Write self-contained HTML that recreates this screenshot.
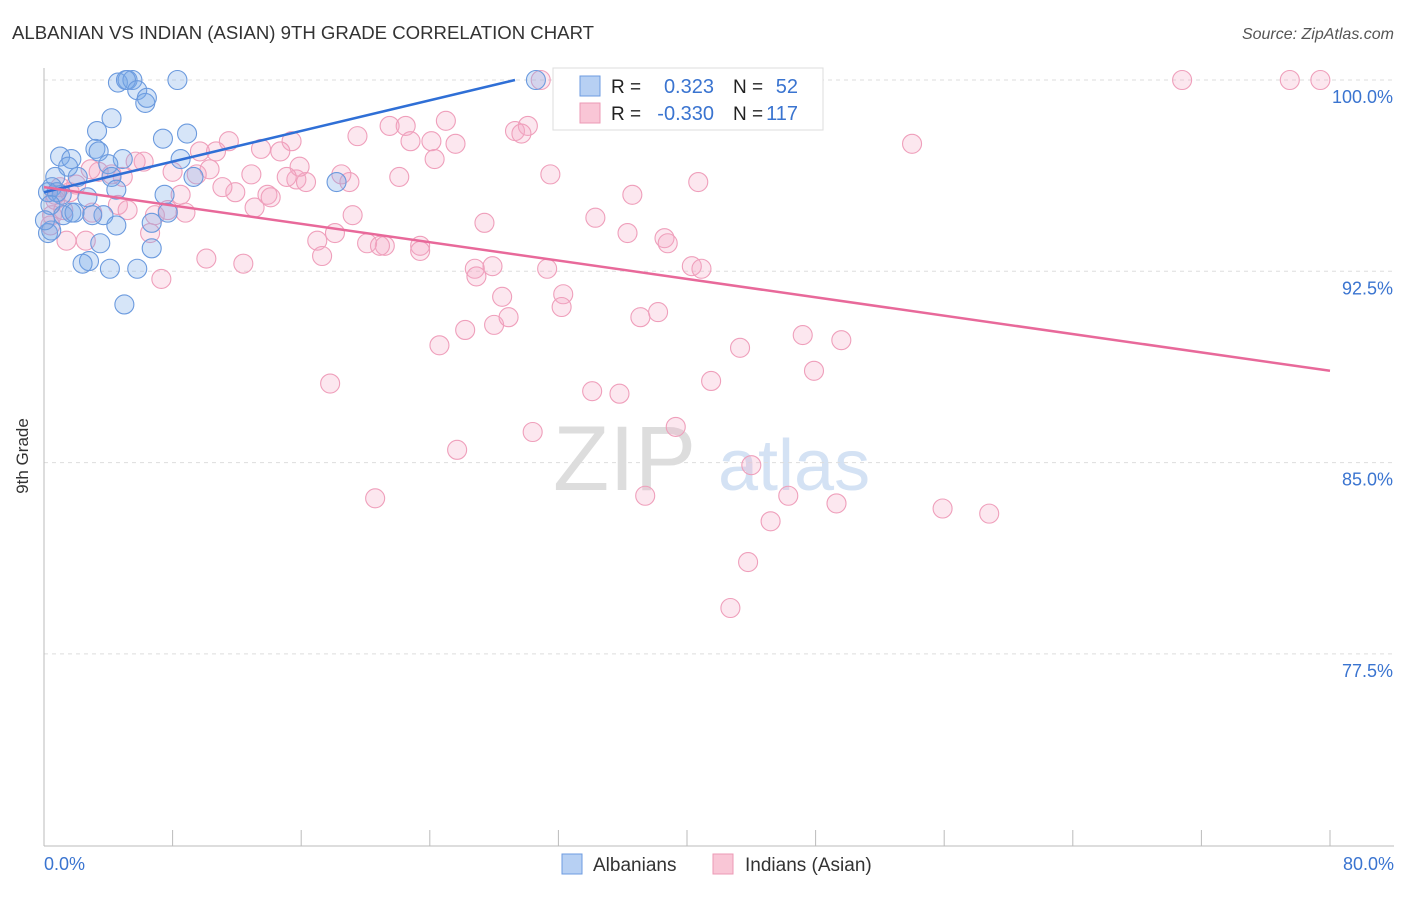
<!DOCTYPE html>
<html><head><meta charset="utf-8"><style>
body{margin:0;background:#fff;font-family:"Liberation Sans",sans-serif;}
svg text{font-family:"Liberation Sans",sans-serif;}
</style></head><body>
<svg id="chart" width="1406" height="892">
<text x="12" y="39" font-size="18.6" fill="#333">ALBANIAN VS INDIAN (ASIAN) 9TH GRADE CORRELATION CHART</text>
<text x="1394" y="39" font-size="16" fill="#555" font-style="italic" text-anchor="end">Source: ZipAtlas.com</text>
<g><text x="553" y="490" font-size="92" fill="#ddd" font-family="Liberation Serif">ZIP</text><text x="718" y="490" font-size="72" fill="#d4e2f4">atlas</text></g>
<g id="grid"></g>
<line x1="44" y1="68" x2="44" y2="846" stroke="#bbb"/>
<line x1="44" y1="846" x2="1394" y2="846" stroke="#bbb"/>
<text x="28" y="456" font-size="17" fill="#333" transform="rotate(-90 28 456)" text-anchor="middle">9th Grade</text>
<text x="44" y="870" font-size="18" fill="#3a74d0">0.0%</text>
<text x="1394" y="870" font-size="18" fill="#3a74d0" text-anchor="end">80.0%</text>
<g id="pts"></g>
<g id="lines"></g>
<g>
<rect x="553" y="68" width="270" height="62" fill="#fff" stroke="#ddd"/>
<rect x="580" y="76" width="20" height="20" fill="#b7d0f3" stroke="#6d9be0"/>
<rect x="580" y="103" width="20" height="20" fill="#f9c6d6" stroke="#ec9ab5"/>
<text x="611" y="93" font-size="19" fill="#222">R =</text>
<text x="714" y="93" font-size="20" fill="#3a74d0" text-anchor="end">0.323</text>
<text x="733" y="93" font-size="19" fill="#222">N =</text>
<text x="798" y="93" font-size="20" fill="#3a74d0" text-anchor="end">52</text>
<text x="611" y="120" font-size="19" fill="#222">R =</text>
<text x="714" y="120" font-size="20" fill="#3a74d0" text-anchor="end">-0.330</text>
<text x="733" y="120" font-size="19" fill="#222">N =</text>
<text x="798" y="120" font-size="20" fill="#3a74d0" text-anchor="end">117</text>
</g>
<g>
<rect x="562" y="854" width="20" height="20" fill="#b7d0f3" stroke="#6d9be0"/>
<text x="593" y="871" font-size="19" fill="#333">Albanians</text>
<rect x="713" y="854" width="20" height="20" fill="#f9c6d6" stroke="#ec9ab5"/>
<text x="745" y="871" font-size="19" fill="#333">Indians (Asian)</text>
</g>
</svg>
<script>
const yTicks=[100,92.5,85,77.5];
const yTickLabels=["100.0%","92.5%","85.0%","77.5%"];
const xTicks=[0,8,16,24,32,40,48,56,64,72,80];
const blueX=[4.6,5.2,5.5,5.1,5.8,6.3,6.4,8.3,4.2,3.3,3.2,3.4,4.9,1.0,1.7,1.5,0.7,0.5,0.25,2.1,4.0,4.2,4.5,2.7,3.7,3.0,1.7,1.2,0.25,0.45,4.5,7.4,8.9,8.5,9.3,7.5,7.7,6.7,6.7,3.5,2.8,2.4,4.1,5.8,5.0,18.2,30.6,1.1,0.8,1.9,0.4,0.06];
const blueY=[99.9,100,100,100,99.6,99.1,99.3,100,98.5,98.0,97.3,97.2,96.9,97.0,96.9,96.6,96.2,95.8,95.6,96.2,96.7,96.2,95.7,95.4,94.7,94.7,94.8,94.7,94.0,94.1,94.3,97.7,97.9,96.9,96.2,95.5,94.8,94.4,93.4,93.6,92.9,92.8,92.6,92.6,91.2,96.0,100,95.5,95.6,94.8,95.1,94.5];
const pinkX=[30.9,46.8,70.8,77.5,79.4,54.0,11.5,15.4,14.7,13.5,10.7,9.7,21.5,22.5,19.5,25.0,22.8,24.1,25.6,24.3,29.3,30.1,29.7,22.1,31.5,36.6,40.7,34.3,36.3,27.4,38.6,38.8,23.4,23.4,21.2,20.1,20.9,19.2,18.1,17.0,17.3,15.7,16.3,15.9,15.1,19.0,18.5,13.9,14.1,12.9,11.9,11.1,13.1,10.3,9.5,8.5,8.8,7.7,6.9,6.6,8.0,6.2,5.7,4.9,4.2,4.6,5.2,3.4,2.9,2.0,1.6,1.0,0.7,0.5,0.4,0.7,1.2,2.6,1.4,10.1,12.4,7.3,26.8,27.9,26.9,28.5,31.3,32.3,32.2,24.6,26.2,28.0,28.9,37.1,38.2,40.3,40.9,43.3,41.5,47.2,49.6,47.9,17.8,34.1,35.8,30.4,39.3,25.7,20.6,37.4,44.0,46.3,49.3,45.2,55.9,58.8,43.8,42.7,3.0];
const pinkY=[100,100,100,100,100,97.5,97.6,97.6,97.2,97.3,97.2,97.2,98.2,98.2,97.8,98.4,97.6,97.6,97.5,96.9,98.0,98.2,97.9,96.2,96.3,95.5,96.0,94.6,94.0,94.4,93.8,93.6,93.5,93.3,93.5,93.6,93.5,94.7,94.0,93.7,93.1,96.1,96.0,96.6,96.2,96.0,96.3,95.5,95.4,96.3,95.6,95.8,95.0,96.5,96.3,95.5,94.8,94.9,94.7,94.0,96.4,96.8,96.8,96.2,96.3,95.1,94.9,96.4,96.5,95.9,95.6,95.8,95.5,94.7,94.3,95.3,94.9,93.7,93.7,93.0,92.8,92.2,92.6,92.7,92.3,91.5,92.6,91.6,91.1,89.6,90.2,90.4,90.7,90.7,90.9,92.7,92.6,89.5,88.2,90.0,89.8,88.6,88.1,87.8,87.7,86.2,86.4,85.5,83.6,83.7,84.9,83.7,83.4,82.7,83.2,83.0,81.1,79.3,94.8];
const blueTrendX=[0,29.3];
const blueTrendY=[95.6,100];
const pinkTrendX=[0,80];
const pinkTrendY=[95.8,88.6];
const NS="http://www.w3.org/2000/svg";
function sx(v){return 44+v/80*1286;}
function sy(v){return 80+(100-v)/7.5*191.3;}
function mk(t,a){const e=document.createElementNS(NS,t);for(const k in a)e.setAttribute(k,a[k]);return e;}
const grid=document.getElementById('grid');
yTicks.forEach((t,i)=>{
 const l=mk('line',{x1:44,x2:1394,y1:sy(t),y2:sy(t),stroke:'#ddd','stroke-dasharray':'4,4'});
 
 
 grid.appendChild(l);
 const tx=mk('text',{x:1393,y:sy(t)+23,'font-size':18,fill:'#3a74d0','text-anchor':'end'});
 tx.textContent=yTickLabels[i];
 
 
 grid.appendChild(tx);
});
xTicks.forEach(t=>{
 const l=mk('line',{x1:sx(t),x2:sx(t),y1:830,y2:846,stroke:'#bbb'});
 
 
 grid.appendChild(l);
});
const pts=document.getElementById('pts');
pinkX.forEach((x,i)=>{
 const c=mk('circle',{cx:sx(x),cy:sy(pinkY[i]),r:9.5,fill:'rgba(246,170,196,0.28)',stroke:'#ef9fbb','stroke-width':1.1});
 
 
 pts.appendChild(c);
});
blueX.forEach((x,i)=>{
 const c=mk('circle',{cx:sx(x),cy:sy(blueY[i]),r:9.5,fill:'rgba(120,168,232,0.3)',stroke:'#6b9ade','stroke-width':1.1});
 
 
 pts.appendChild(c);
});
const lines=document.getElementById('lines');
const bl=mk('line',{x1:sx(blueTrendX[0]),y1:sy(blueTrendY[0]),x2:sx(blueTrendX[1]),y2:sy(blueTrendY[1]),stroke:'#2f6fd6','stroke-width':2.5});


lines.appendChild(bl);
const pl=mk('line',{x1:sx(pinkTrendX[0]),y1:sy(pinkTrendY[0]),x2:sx(pinkTrendX[1]),y2:sy(pinkTrendY[1]),stroke:'#e8699a','stroke-width':2.5});


lines.appendChild(pl);
</script>
</body></html>
